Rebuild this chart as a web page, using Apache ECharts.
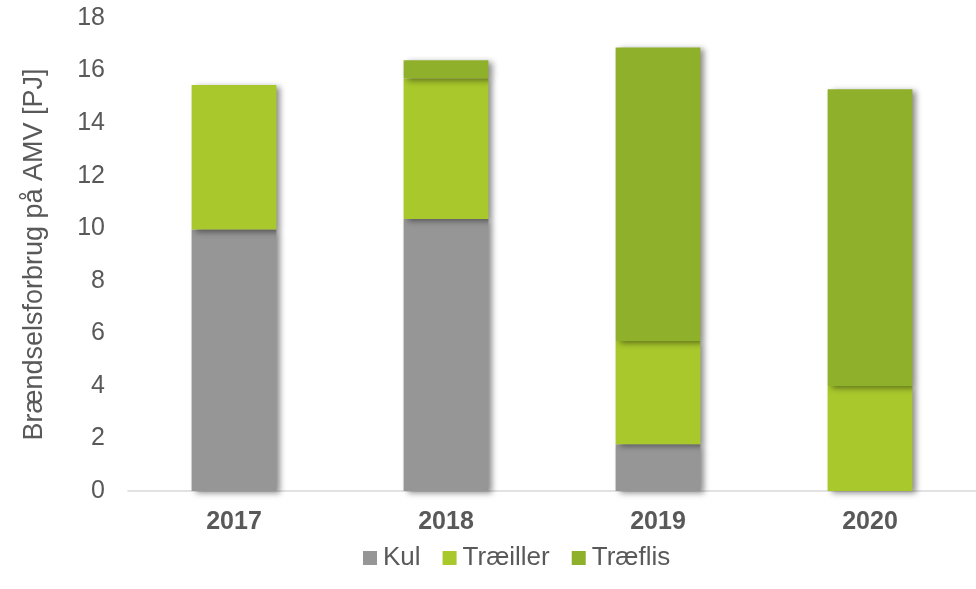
<!DOCTYPE html>
<html>
<head>
<meta charset="utf-8">
<script src="https://cdn.jsdelivr.net/npm/echarts@6/dist/echarts.min.js"></script>
<style>
  html, body { margin: 0; padding: 0; background: #fff; }
  #main { width: 976px; height: 589px; }
</style>
</head>
<body>
<div id="main"></div>
<script>
// data
const years = ['2017', '2018', '2019', '2020']
const kul = [9.95, 10.35, 1.78, 0]
const traeiller = [5.5, 5.35, 3.93, 4.0]
const traeflis = [0, 0.69, 11.17, 11.29]

const shadow = {
    shadowColor: 'rgba(0,0,0,0.45)',
    shadowBlur: 6,
    shadowOffsetX: 4,
    shadowOffsetY: 2
}

const make_series = (name, data, color) => ({
    name: name,
    type: 'bar',
    stack: 'total',
    barWidth: '40%',
    data: data,
    itemStyle: Object.assign({ color: color }, shadow)
})

var myChart = echarts.init(document.getElementById('main'))

var option = {
    animation: false,
    textStyle: { fontFamily: 'Liberation Sans' },
    grid: { left: 128, right: -17, top: 18, bottom: 98 },
    legend: {
        top: 540,
        left: 358,
        itemWidth: 14,
        itemHeight: 14,
        itemGap: 22,
        icon: 'rect',
        textStyle: { fontSize: 26, color: '#595959', padding: [0, 0, 0, 1] },
        data: ['Kul', 'Træiller', 'Træflis']
    },
    xAxis: {
        type: 'category',
        data: years,
        axisLine: { lineStyle: { color: '#d9d9d9', width: 1.5 } },
        axisTick: { show: false },
        axisLabel: { fontSize: 25, fontWeight: 'bold', color: '#595959', margin: 19 }
    },
    yAxis: {
        type: 'value',
        min: 0,
        max: 18,
        interval: 2,
        name: 'Brændselsforbrug på AMV [PJ]',
        nameLocation: 'middle',
        nameGap: 80,
        nameTextStyle: { fontSize: 27, color: '#595959' },
        splitLine: { show: false },
        axisLine: { show: false },
        axisLabel: { fontSize: 25, color: '#595959', margin: 23 }
    },
    series: [
        make_series('Kul', kul, '#969696'),
        make_series('Træiller', traeiller, '#a8c82c'),
        make_series('Træflis', traeflis, '#8fb02a')
    ]
}

myChart.setOption(option)
</script>
</body>
</html>
